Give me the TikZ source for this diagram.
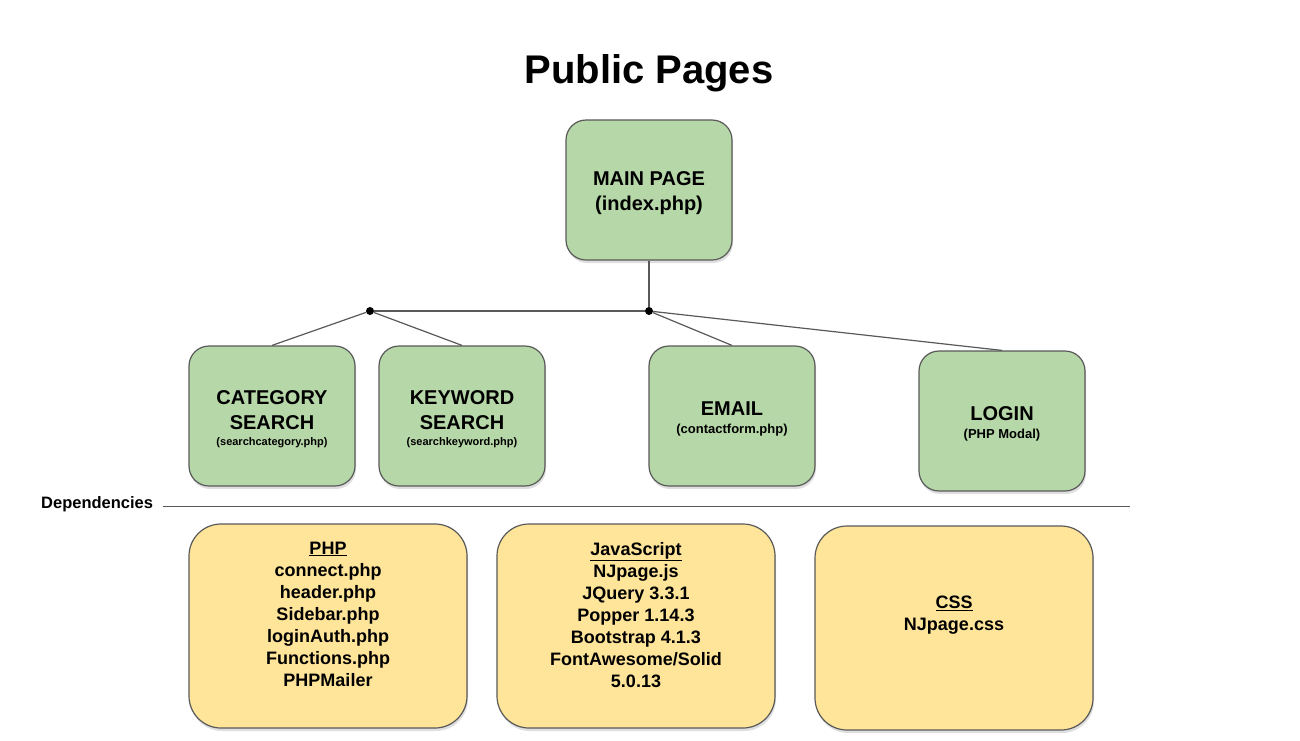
\documentclass[tikz,border=0pt]{standalone}
\usepackage{fontspec}
\setmainfont{Liberation Sans}
\usetikzlibrary{shadows}
\definecolor{pagegreen}{HTML}{B6D7A8}
\definecolor{depyellow}{HTML}{FFE599}
\definecolor{edgegray}{HTML}{595959}

\begin{document}
\begin{tikzpicture}[x=1pt, y=-1pt,
  page/.style={draw=edgegray, line width=1.2pt, fill=pagegreen, rounded corners=20pt,
    minimum width=166pt, minimum height=140pt, align=center,
    font=\bfseries\fontsize{20}{25}\selectfont,
    drop shadow={shadow xshift=1pt, shadow yshift=-3pt, opacity=0.25}},
  depbox/.style={draw=edgegray, line width=1.2pt, fill=depyellow, rounded corners=32pt,
    minimum width=278pt, minimum height=204pt,
    drop shadow={shadow xshift=1pt, shadow yshift=-3pt, opacity=0.25}},
  deptext/.style={align=center, font=\bfseries\fontsize{18}{22}\selectfont},
  dot/.style={circle, fill=black, inner sep=0pt, minimum size=8pt},
  link/.style={draw=edgegray, line width=1.2pt}]
\useasboundingbox (0,0) rectangle (1300,740);

\node[font=\bfseries\fontsize{40}{48}\selectfont] (title) at (649,73) {Public Pages};

% pages
\node[page] (main) at (649,190) {\mbox{}\\[-4.5pt]MAIN PAGE\\(index.php)};
\node[page] (cat) at (272,416) {\mbox{}\\[-4.5pt]CATEGORY\\SEARCH\\[-9pt]{\fontsize{11}{13}\selectfont (searchcategory.php)}};
\node[page] (key) at (462,416) {\mbox{}\\[-4.5pt]KEYWORD\\SEARCH\\[-9pt]{\fontsize{11}{13}\selectfont (searchkeyword.php)}};
\node[page] (email) at (732,416) {\mbox{}\\[-4.5pt]EMAIL\\[-7pt]{\fontsize{13}{15}\selectfont (contactform.php)}};
\node[page] (login) at (1002,421) {\mbox{}\\[-4.5pt]LOGIN\\[-7pt]{\fontsize{13}{15}\selectfont (PHP Modal)}};

\node[dot] (catjoin) at (370,311) {};
\node[dot] (mainjoin) at (649,311) {};

\draw[link] (main) -- (mainjoin);
\draw[link] (catjoin) -- (mainjoin);
\draw[link] (catjoin) -- (cat.north);
\draw[link] (catjoin) -- (key.north);
\draw[link] (mainjoin) -- (email.north);
\draw[link] (mainjoin) -- (login.north);

% dependencies
\node[anchor=west, inner sep=0pt, font=\bfseries\fontsize{16.5}{19}\selectfont] (dep) at (41,504) {Dependencies};
\coordinate (depL) at (163,506);
\coordinate (depR) at (1130,506);
\draw[draw=edgegray, line width=1pt] (depL) -- (depR);

\node[depbox] (php) at (328,626) {};
\node[deptext] (php_list) at (328,614) {\underline{PHP}\\connect.php\\header.php\\Sidebar.php\\loginAuth.php\\Functions.php\\PHPMailer};
\node[depbox] (js) at (636,626) {};
\node[deptext] (js_list) at (636,615) {\underline{JavaScript}\\NJpage.js\\JQuery 3.3.1\\Popper 1.14.3\\Bootstrap 4.1.3\\FontAwesome/Solid\\5.0.13};
\node[depbox] (css) at (954,628) {};
\node[deptext] (css_list) at (954,615) {\underline{CSS}\\NJpage.css};
\end{tikzpicture}
\end{document}
